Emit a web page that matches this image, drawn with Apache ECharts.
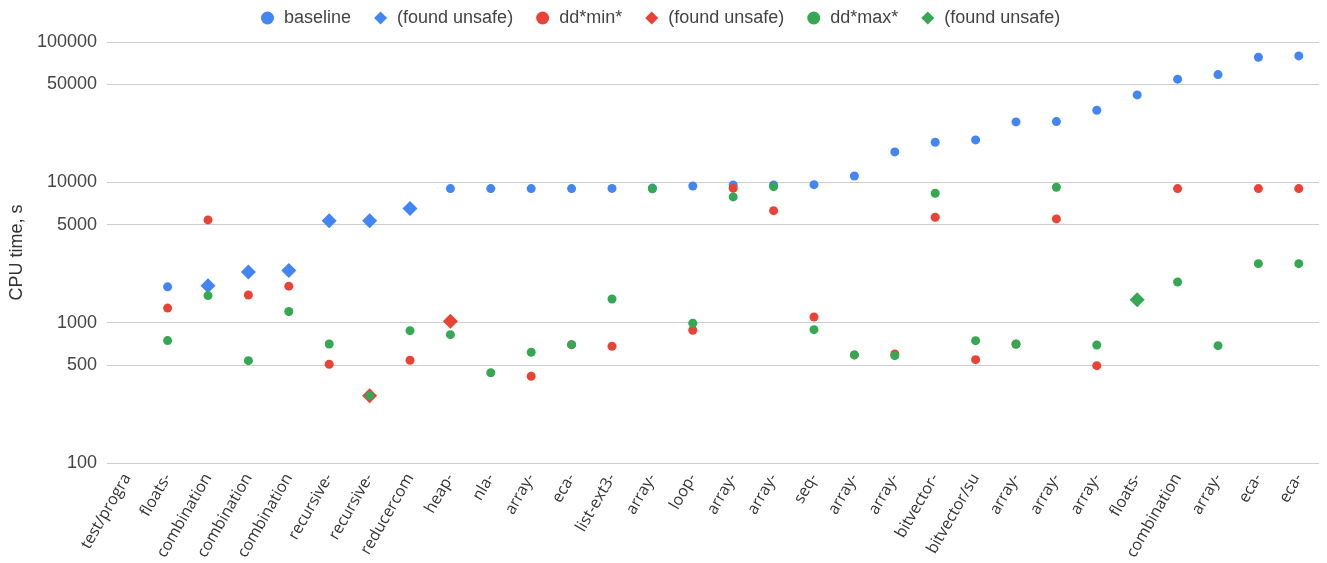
<!DOCTYPE html>
<html>
<head>
<meta charset="utf-8">
<script src="https://cdn.jsdelivr.net/npm/echarts@6/dist/echarts.min.js"></script>
<style>
html,body{margin:0;padding:0;background:#fff;}
#chart{width:1327px;height:563px;}
</style>
</head>
<body>
<div id="chart"></div>
<script>
const categories = ['test/progra','floats-','combination','combination','combination','recursive-','recursive-','reducercom','heap-','nla-','array-','eca-','list-ext3-','array-','loop-','array-','array-','seq-','array-','array-','bitvector-','bitvector/su','array-','array-','array-','floats-','combination','array-','eca-','eca-'];
const baseline       = [null,1800,null,null,null,null,null,null,9020,9020,9020,9020,9050,9100,9420,9580,9580,9630,11100,16470,19310,20050,26950,27100,32620,41980,54330,58610,77800,79620];
const baselineUnsafe = [null,null,1830,2300,2350,5330,5330,6500,null,null,null,null,null,null,null,null,null,null,null,null,null,null,null,null,null,null,null,null,null,null];
const ddmin          = [null,1270,5400,1575,1820,505,null,540,null,null,415,697,679,null,883,9080,6285,1098,589,598,5640,545,705,5485,494,null,9020,null,9020,9020];
const ddminUnsafe    = [null,null,null,null,null,null,302,null,1023,null,null,null,null,null,null,null,null,null,null,null,null,null,null,null,null,null,null,null,null,null];
const ddmax          = [null,745,1560,536,1200,705,302,877,821,440,615,697,1475,9000,990,7870,9320,892,589,582,8360,744,702,9230,693,null,1950,686,2634,2634];
const ddmaxUnsafe    = [null,null,null,null,null,null,null,null,null,null,null,null,null,null,null,null,null,null,null,null,null,null,null,null,null,1459,null,null,null,null];
const yTicks = [100,500,1000,5000,10000,50000,100000];
const legendNames = ['baseline','(found unsafe)','dd*min*','(found unsafe)\u200b','dd*max*','(found unsafe)\u200b\u200b'];

const BLUE='#4285F4', RED='#EA4335', GREEN='#34A853';
function pts(arr){ return arr.map((v,i)=> v==null ? null : [i,v]).filter(p=>p); }
function ser(name, arr, color, symbol, size){
  return {name:name, type:'scatter', data:pts(arr), symbol:symbol, symbolSize:size,
    itemStyle:{color:color, opacity:1}, emphasis:{disabled:true}};
}
const chart = echarts.init(document.getElementById('chart'), null, {renderer:'canvas'});
chart.setOption({
  animation:false,
  legend:{
    top:4, left:256, itemWidth:13, itemHeight:13, itemGap:23,
    symbolKeepAspect:true,
    textStyle:{fontFamily:'Liberation Sans', fontSize:18, color:'#444', padding:[0,0,0,5]},
    data:[
      {name:legendNames[0], icon:'circle'},
      {name:legendNames[1], icon:'diamond'},
      {name:legendNames[2], icon:'circle'},
      {name:legendNames[3], icon:'diamond'},
      {name:legendNames[4], icon:'circle'},
      {name:legendNames[5], icon:'diamond'}
    ]
  },
  grid:{left:107, right:8, top:42, bottom:100, containLabel:false},
  xAxis:{
    type:'category', data:categories, boundaryGap:true,
    axisLine:{show:false}, axisTick:{show:false}, splitLine:{show:false},
    axisLabel:{interval:0, rotate:60, margin:12, fontFamily:'Open Sans', fontSize:16, color:'#333'}
  },
  yAxis:{
    type:'log', logBase:10, min:100, max:100000,
    name:'CPU time, s', nameLocation:'middle', nameGap:76, nameRotate:90,
    nameTextStyle:{fontFamily:'Liberation Sans', fontSize:18, color:'#333'},
    axisLine:{show:false},
    axisTick:{show:false, customValues:yTicks},
    axisLabel:{customValues:yTicks, margin:10, fontFamily:'Liberation Sans', fontSize:18, color:'#444',
      formatter:function(v){ return String(Math.round(v)); }},
    splitLine:{show:true, lineStyle:{color:'#cccccc', width:1}}
  },
  series:[
    ser(legendNames[0], baseline, BLUE, 'circle', 9),
    ser(legendNames[1], baselineUnsafe, BLUE, 'diamond', 15),
    ser(legendNames[2], ddmin, RED, 'circle', 9),
    ser(legendNames[3], ddminUnsafe, RED, 'diamond', 15),
    ser(legendNames[4], ddmax, GREEN, 'circle', 9),
    ser(legendNames[5], ddmaxUnsafe, GREEN, 'diamond', 15)
  ]
});
</script>
</body>
</html>
